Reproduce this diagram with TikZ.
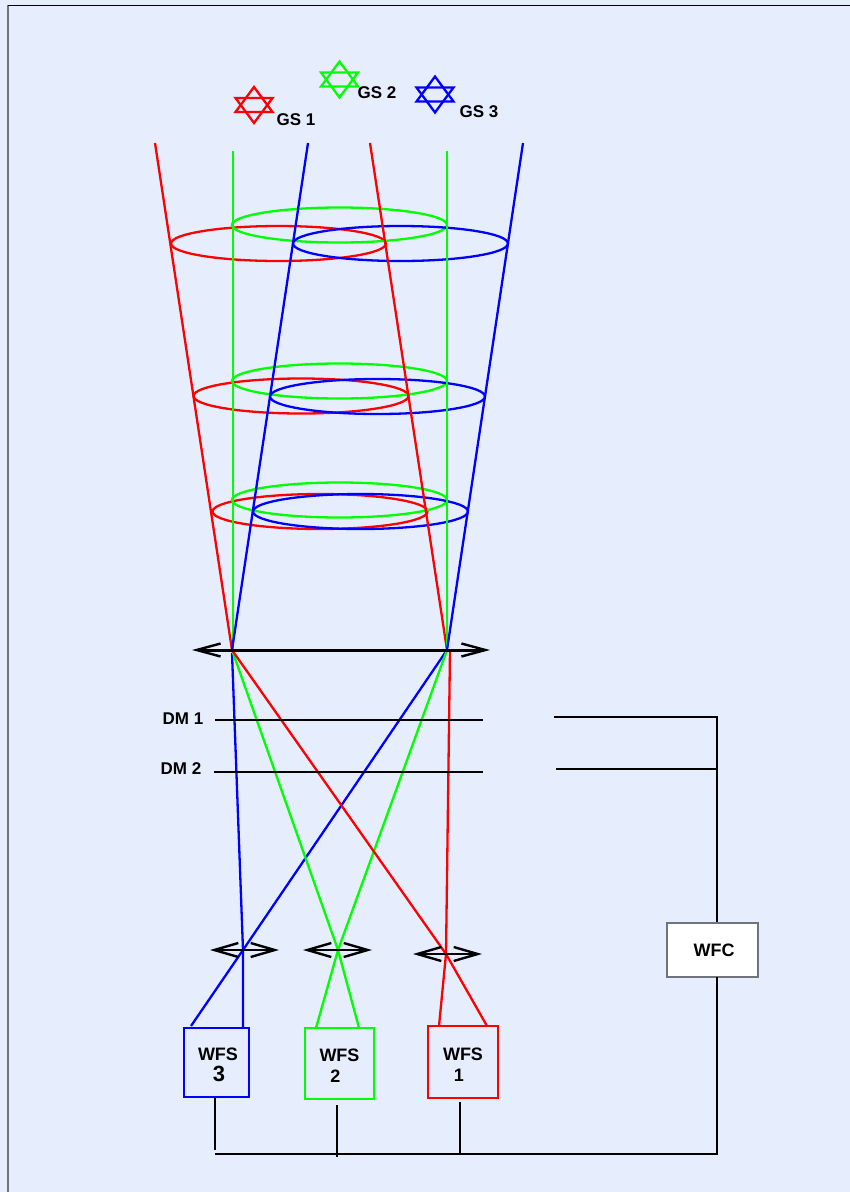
\documentclass[tikz,border=0pt]{standalone}
\usepackage{fontspec}
\setmainfont{Liberation Sans}
\usetikzlibrary{arrows.meta}
\definecolor{pagebg}{HTML}{E6EEFE}
\definecolor{gsred}{HTML}{FF0000}
\definecolor{gsgreen}{HTML}{00FF00}
\definecolor{gsblue}{HTML}{0000FF}
\definecolor{framegray}{HTML}{70747C}
\tikzset{ray/.style={line width=2.3pt},
         wire/.style={line width=2.5pt,black},
         dm/.style={line width=1.2pt,black},
         bigarrow/.style={line width=3pt,black,
            {Straight Barb[length=24pt,width=13pt,line width=2.4pt]}-{Straight Barb[length=24pt,width=13pt,line width=2.4pt]}},
         lensarrow/.style={line width=2.4pt,black,
            {Straight Barb[length=24pt,width=14pt,line width=2.4pt]}-{Straight Barb[length=24pt,width=14pt,line width=2.4pt]}},
         label/.style={font=\fontsize{17}{19}\selectfont\bfseries,inner sep=0pt},
         wfsbox/.style={draw,line width=2.4pt,align=center,inner sep=0pt,
            font=\fontsize{18}{21}\selectfont\bfseries},
         wfcbox/.style={draw=framegray,line width=1.5pt,fill=white,inner sep=0pt,
            font=\fontsize{18}{20}\selectfont\bfseries}}

\begin{document}
\begin{tikzpicture}[x=1pt,y=-1pt]
      \useasboundingbox (0,0) rectangle (850,1192);
      \fill[pagebg] (0,0) rectangle (850,1192);
      \draw[framegray,line width=2.4pt] (8,5) -- (8,1192);
      \draw[black,line width=1pt] (8,5) -- (850,5);

      % guide stars
      \foreach \x/\y/\c in {254/105/gsred,339.5/79.5/gsgreen,435/94.5/gsblue}{
        \draw[\c,line width=2.3pt] (\x,\y-18) -- (\x+18.5,\y+7) -- (\x-18.5,\y+7) -- cycle;
        \draw[\c,line width=2.3pt] (\x,\y+18) -- (\x+18.5,\y-7) -- (\x-18.5,\y-7) -- cycle;
      }
      \node[label] (gs1) at (296,120) {GS 1};
      \node[label] (gs2) at (377,93) {GS 2};
      \node[label] (gs3) at (479,112) {GS 3};

      % pupil footprints
      \foreach \x/\y in {278.5/243.5,301/396,320/511.5}
        \draw[gsred,ray] (\x,\y) ellipse [x radius=107.5,y radius=17.5];
      \foreach \x/\y in {339.5/225,339.5/381,339.5/500}
        \draw[gsgreen,ray] (\x,\y) ellipse [x radius=107.5,y radius=17.5];
      \foreach \x/\y in {400.5/243.5,377.5/396.5,360.5/511.5}
        \draw[gsblue,ray] (\x,\y) ellipse [x radius=107.5,y radius=17.5];

      \coordinate (lensl) at (232,650);
      \coordinate (lensr) at (447,650);
      \coordinate (focusb) at (243,950);
      \coordinate (focusg) at (338,950);
      \coordinate (focusr) at (446,954);

      % WFS boxes and the WFC
      \node[wfsbox,draw=gsblue,minimum width=65pt,minimum height=69pt] (wfs3) at (216.5,1062.5)
        {\rule{0pt}{18pt}\hspace*{3pt}WFS\\\hspace*{5pt}{\fontsize{22}{21}\selectfont 3}};
      \node[wfsbox,draw=gsgreen,minimum width=69pt,minimum height=71pt] (wfs2) at (339.5,1063.5)
        {\rule{0pt}{16pt}WFS\\\hspace*{-8pt}2};
      \node[wfsbox,draw=gsred,minimum width=70pt,minimum height=72pt] (wfs1) at (463,1062)
        {\rule{0pt}{18pt}WFS\\\hspace*{-8pt}1};
      \node[wfcbox,minimum width=91pt,minimum height=54pt] (wfc) at (712.5,950) {\hspace*{3pt}WFC};

      % rays above the lens
      \draw[gsred,ray] (155,143) -- (lensl);
      \draw[gsgreen,ray] (233,151) -- (233,650);
      \draw[gsblue,ray] (308,143) -- (lensl);
      \draw[gsred,ray] (370,143) -- (lensr);
      \draw[gsgreen,ray] (447,151) -- (lensr);
      \draw[gsblue,ray] (523,143) -- (lensr);

      % rays below the lens
      \draw[gsblue,ray] (232,653) -- (focusb) -- (243,1027);
      \draw[gsblue,ray] (lensr) -- (focusb) -- (191,1026);
      \draw[gsgreen,ray] (lensl) -- (focusg) -- (359,1028);
      \draw[gsgreen,ray] (lensr) -- (focusg) -- (316,1028);
      \draw[gsred,ray] (lensl) -- (focusr) -- (487,1026);
      \draw[gsred,ray] (450,650) -- (focusr) -- (439,1026);

      % lenses
      \draw[bigarrow] (192,650) -- (490,650);
      \draw[lensarrow] (210,950) -- (279,950);
      \draw[lensarrow] (303,950) -- (372,950);
      \draw[lensarrow] (413,954) -- (482,954);

      % deformable mirrors
      \node[label] (dm1) at (183,719) {DM 1};
      \node[label] (dm2) at (181,769) {DM 2};
      \draw[dm] (215,720) -- (483,720);
      \draw[dm] (214,772) -- (483,772);

      % control wiring
      \coordinate (busr) at (717,1154);
      \draw[wire] (554,717) -- (717,717) -- (wfc.north -| 717,923);
      \draw[wire] (556,769) -- (717,769);
      \draw[wire] (717,977) -- (busr) -- (215,1154);
      \draw[wire] (215,1098) -- (215,1150);
      \draw[wire] (337,1105) -- (337,1157);
      \draw[wire] (460,1102) -- (460,1154);
    \end{tikzpicture}
\end{document}
